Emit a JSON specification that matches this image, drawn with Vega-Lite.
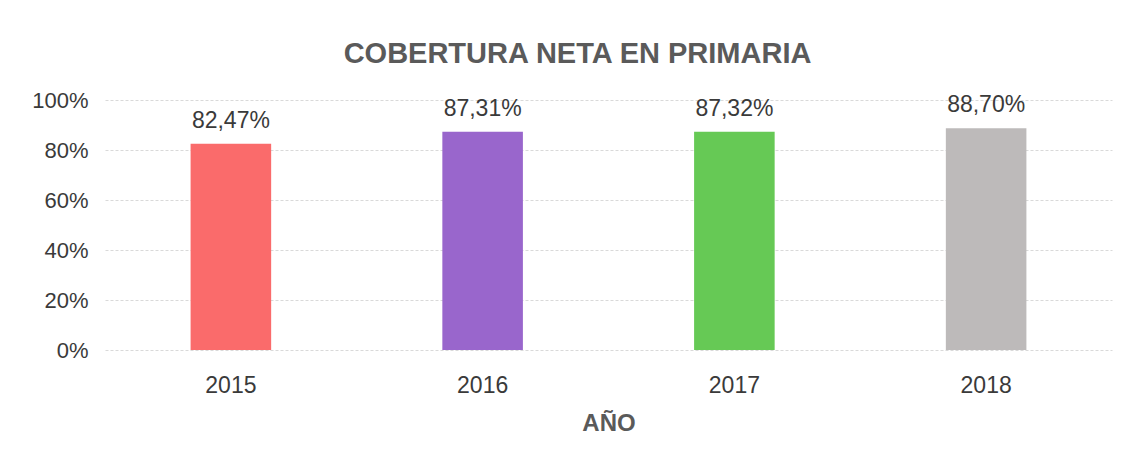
{
  "$schema": "https://vega.github.io/schema/vega-lite/v6.json",
  "autosize": {"type": "none"},
  "padding": {"left": 105, "top": 100, "right": 15, "bottom": 113},
  "width": 1007,
  "height": 250,
  "background": "white",
  "title": {
    "text": "COBERTURA NETA EN PRIMARIA",
    "font": "Liberation Sans",
    "fontSize": 29,
    "fontWeight": "bold",
    "color": "#5a5a5a",
    "anchor": "middle",
    "dx": -31,
    "offset": 20
  },
  "data": {
    "values": [
      {"year": "2015", "value": 0.8247, "label": "82,47%"},
      {"year": "2016", "value": 0.8731, "label": "87,31%"},
      {"year": "2017", "value": 0.8732, "label": "87,32%"},
      {"year": "2018", "value": 0.887, "label": "88,70%"}
    ]
  },
  "encoding": {
    "x": {
      "field": "year",
      "type": "nominal",
      "sort": null,
      "scale": {"paddingInner": 0.68, "paddingOuter": 0.34},
      "axis": {
        "title": "AÑO",
        "labelAngle": 0,
        "labelFont": "Liberation Sans",
        "labelFontSize": 23,
        "labelColor": "#3a3a3a",
        "labelPadding": 24,
        "labelOverlap": false,
        "titleFont": "Liberation Sans",
        "titleFontSize": 24,
        "titleFontWeight": "bold",
        "titleColor": "#5a5a5a",
        "titlePadding": 14,
        "domain": false,
        "ticks": false
      }
    },
    "y": {
      "field": "value",
      "type": "quantitative",
      "scale": {"domain": [0, 1]},
      "axis": {
        "title": null,
        "format": ".0%",
        "values": [0, 0.2, 0.4, 0.6, 0.8, 1],
        "labelFont": "Liberation Sans",
        "labelFontSize": 22,
        "labelColor": "#3a3a3a",
        "labelPadding": 17,
        "labelOverlap": false,
        "labelFlush": false,
        "domain": false,
        "ticks": false,
        "gridColor": "#d9d9d9",
        "gridDash": [3, 2],
        "gridWidth": 1
      }
    }
  },
  "layer": [
    {
      "mark": {"type": "bar"},
      "encoding": {
        "color": {
          "field": "year",
          "type": "nominal",
          "scale": {"domain": ["2015", "2016", "2017", "2018"], "range": ["#fa6b6b", "#9966cc", "#66c955", "#bdbaba"]},
          "legend": null
        }
      }
    },
    {
      "mark": {"type": "text", "baseline": "alphabetic", "dy": -16, "font": "Liberation Sans", "fontSize": 23, "color": "#3a3a3a"},
      "encoding": {"text": {"field": "label"}}
    }
  ],
  "config": {"view": {"stroke": null}}
}
